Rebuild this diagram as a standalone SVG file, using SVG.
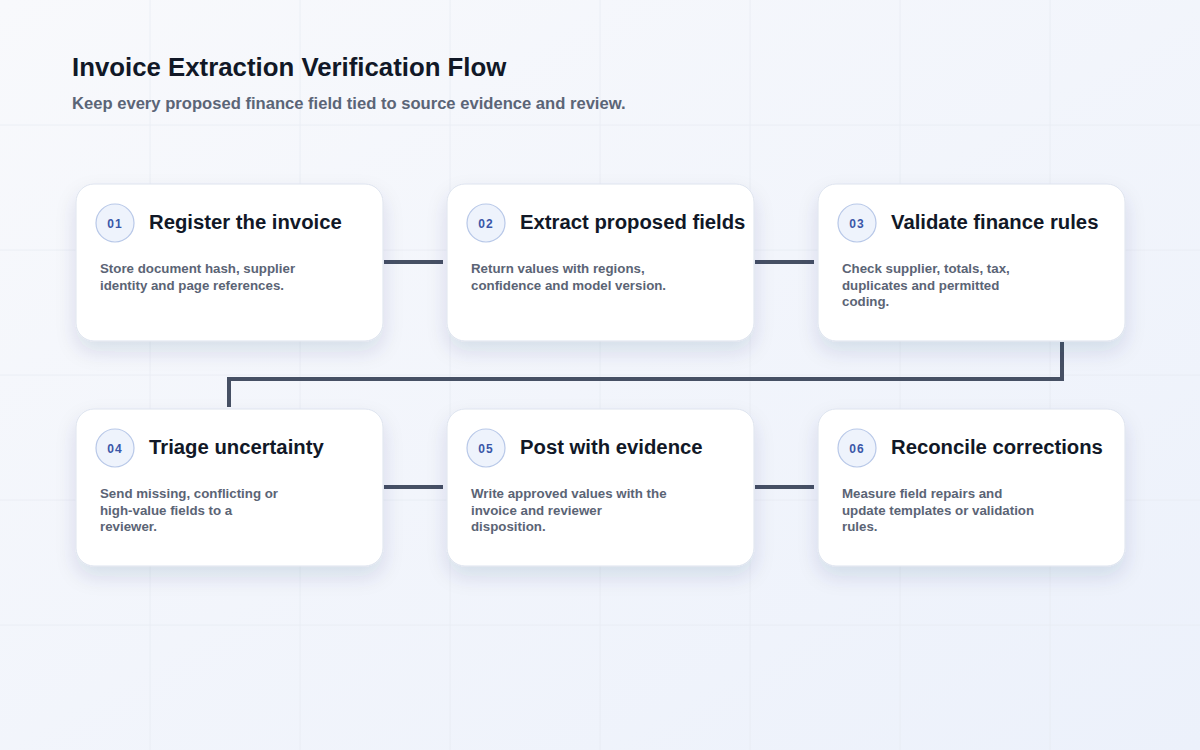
<svg xmlns="http://www.w3.org/2000/svg" width="1200" height="750" viewBox="0 0 1200 750">
<defs>
<linearGradient id="bg" x1="0" y1="0" x2="1" y2="1">
<stop offset="0" stop-color="#f8f9fc"/>
<stop offset="1" stop-color="#ecf1fb"/>
</linearGradient>
<filter id="shadow" x="-20%" y="-20%" width="140%" height="160%">
<feDropShadow dx="0" dy="10" stdDeviation="10" flood-color="#23335f" flood-opacity="0.12"/>
</filter>
<style>
.grid{stroke:#e6eaf2;stroke-width:1;opacity:0.7}
.card{fill:#ffffff;stroke:#dde3ee;stroke-width:1;filter:url(#shadow)}
.badge{fill:#eef3fc;stroke:#b8c8e8;stroke-width:1.2}
.num{font-family:"Liberation Sans",Arial,sans-serif;font-size:12px;font-weight:700;fill:#3a57a8;text-anchor:middle;letter-spacing:1px}
.ttl{font-family:"Liberation Sans",Arial,sans-serif;font-size:20.3px;font-weight:700;fill:#111827}
.body{font-family:"Liberation Sans",Arial,sans-serif;font-size:13.3px;font-weight:700;fill:#5b6475}
.conn{fill:none;stroke:#465064;stroke-width:4;stroke-linejoin:miter}
</style>
</defs>
<rect width="1200" height="750" fill="url(#bg)"/>
<g id="grid">
<path class="grid" d="M150 0V750M300 0V750M450 0V750M600 0V750M750 0V750M900 0V750M1050 0V750M0 125H1200M0 250H1200M0 375H1200M0 500H1200M0 625H1200"/>
</g>
<g id="header">
<text x="72" y="76" font-family="Liberation Sans, Arial, sans-serif" font-size="25.8" font-weight="700" fill="#111827">Invoice Extraction Verification Flow</text>
<text x="72" y="109" font-family="Liberation Sans, Arial, sans-serif" font-size="16.6" font-weight="700" fill="#5b6577">Keep every proposed finance field tied to source evidence and review.</text>
</g>
<g id="connectors">
<path class="conn" d="M384 262H443"/>
<path class="conn" d="M755 262H814"/>
<path class="conn" d="M1062 342V379H229V407"/>
<path class="conn" d="M384 487H443"/>
<path class="conn" d="M755 487H814"/>
</g>
<g id="node-01">
<rect class="card" x="76" y="184" width="307" height="157" rx="18"/>
<circle class="badge" cx="115" cy="223" r="19"/>
<text class="num" x="115" y="227.5">01</text>
<text class="ttl" x="149" y="229">Register the invoice</text>
<text class="body" x="100" y="273">Store document hash, supplier</text>
<text class="body" x="100" y="289.5">identity and page references.</text>
</g>
<g id="node-02">
<rect class="card" x="447" y="184" width="307" height="157" rx="18"/>
<circle class="badge" cx="486" cy="223" r="19"/>
<text class="num" x="486" y="227.5">02</text>
<text class="ttl" x="520" y="229">Extract proposed fields</text>
<text class="body" x="471" y="273">Return values with regions,</text>
<text class="body" x="471" y="289.5">confidence and model version.</text>
</g>
<g id="node-03">
<rect class="card" x="818" y="184" width="307" height="157" rx="18"/>
<circle class="badge" cx="857" cy="223" r="19"/>
<text class="num" x="857" y="227.5">03</text>
<text class="ttl" x="891" y="229">Validate finance rules</text>
<text class="body" x="842" y="273">Check supplier, totals, tax,</text>
<text class="body" x="842" y="289.5">duplicates and permitted</text>
<text class="body" x="842" y="306">coding.</text>
</g>
<g id="node-04">
<rect class="card" x="76" y="409" width="307" height="157" rx="18"/>
<circle class="badge" cx="115" cy="448" r="19"/>
<text class="num" x="115" y="452.5">04</text>
<text class="ttl" x="149" y="454">Triage uncertainty</text>
<text class="body" x="100" y="498">Send missing, conflicting or</text>
<text class="body" x="100" y="514.5">high-value fields to a</text>
<text class="body" x="100" y="531">reviewer.</text>
</g>
<g id="node-05">
<rect class="card" x="447" y="409" width="307" height="157" rx="18"/>
<circle class="badge" cx="486" cy="448" r="19"/>
<text class="num" x="486" y="452.5">05</text>
<text class="ttl" x="520" y="454">Post with evidence</text>
<text class="body" x="471" y="498">Write approved values with the</text>
<text class="body" x="471" y="514.5">invoice and reviewer</text>
<text class="body" x="471" y="531">disposition.</text>
</g>
<g id="node-06">
<rect class="card" x="818" y="409" width="307" height="157" rx="18"/>
<circle class="badge" cx="857" cy="448" r="19"/>
<text class="num" x="857" y="452.5">06</text>
<text class="ttl" x="891" y="454">Reconcile corrections</text>
<text class="body" x="842" y="498">Measure field repairs and</text>
<text class="body" x="842" y="514.5">update templates or validation</text>
<text class="body" x="842" y="531">rules.</text>
</g>
</svg>
